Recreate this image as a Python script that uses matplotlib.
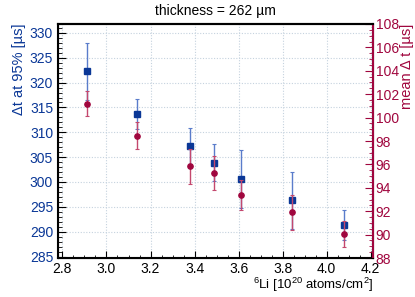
import matplotlib
matplotlib.use('Agg')
import matplotlib.pyplot as plt
from matplotlib.ticker import MultipleLocator

plt.rcParams['font.family'] = ['Liberation Sans', 'DejaVu Sans']
plt.rcParams['mathtext.fontset'] = 'custom'
plt.rcParams['mathtext.rm'] = 'Liberation Sans'
plt.rcParams['mathtext.it'] = 'Liberation Sans'

# 6Li areal density [1e20 atoms/cm2]
li6 = [2.91, 3.14, 3.38, 3.49, 3.61, 3.84, 4.08]
# delta t at 95% [us] (left axis)
dt95 = [322.3, 313.7, 307.2, 303.9, 300.6, 296.3, 291.3]
dt95_err = [5.7, 3.1, 3.6, 3.8, 5.9, 5.7, 3.0]
# mean delta t [us] (right axis)
dt_mean = [101.2, 98.45, 95.85, 95.3, 93.4, 91.9, 90.05]
dt_mean_err = [1.05, 1.15, 1.5, 1.45, 1.3, 1.5, 1.15]

blue = '#0a3796'
blue_light = '#5a7ccb'
red = '#a0063e'
red_light = '#c4486e'

fig = plt.figure(figsize=(4.15, 2.97), dpi=100)
ax = fig.add_axes([0.1398, 0.1313, 0.7590, 0.7879])
ax2 = ax.twinx()

ax.errorbar(li6, dt95, yerr=dt95_err, fmt='s', color=blue, ms=4.2,
            ecolor=blue_light, elinewidth=1.0, capsize=1.5, capthick=0.8, zorder=3)
ax2.errorbar(li6, dt_mean, yerr=dt_mean_err, fmt='o', color=red, ms=3.8,
             ecolor=red_light, elinewidth=1.0, capsize=1.5, capthick=0.8, zorder=3)

ax.set_xlim(2.78, 4.21)
ax.set_ylim(284.7, 331.8)
ax2.set_ylim(88, 108)

ax.xaxis.set_major_locator(MultipleLocator(0.2))
ax.xaxis.set_minor_locator(MultipleLocator(0.05))
ax.yaxis.set_major_locator(MultipleLocator(5))
ax.yaxis.set_minor_locator(MultipleLocator(1))
ax2.yaxis.set_major_locator(MultipleLocator(2))
ax2.yaxis.set_minor_locator(MultipleLocator(0.5))

ax.grid(True, which='major', linestyle=(0, (1, 1.5)), color='#c5d2de', linewidth=0.8)
ax.set_axisbelow(True)

ax.tick_params(axis='x', which='both', direction='in', top=False, labelsize=10, pad=3)
ax.tick_params(axis='x', which='major', length=5)
ax.tick_params(axis='x', which='minor', length=2.5)
ax.tick_params(axis='y', which='both', direction='in', right=False, labelsize=10,
               labelcolor=blue, color='black')
ax.tick_params(axis='y', which='major', length=6)
ax.tick_params(axis='y', which='minor', length=3)
ax2.tick_params(axis='y', which='both', direction='in', labelsize=10,
                labelcolor=red, color=red, pad=2)
ax2.tick_params(axis='y', which='major', length=6)
ax2.tick_params(axis='y', which='minor', length=3)

ax.xaxis.set_major_formatter(matplotlib.ticker.FormatStrFormatter('%.1f'))

for s in ['left', 'bottom', 'top']:
    ax.spines[s].set_linewidth(1.5)
ax2.spines['right'].set_color(red)
ax2.spines['right'].set_linewidth(1.5)
ax2.spines['top'].set_linewidth(1.5)

ax.set_ylabel('\u0394t at 95% [\u00b5s]', color=blue, fontsize=10.5, loc='top', labelpad=3)
ax2.set_ylabel('mean \u0394 t [\u00b5s]', color=red, fontsize=10.5, loc='top', labelpad=1)
ax.set_xlabel('$^{6}$Li [10$^{20}$ atoms/cm$^{2}$]', fontsize=9.5, loc='right', labelpad=0)
fig.suptitle('thickness = 262 \u00b5m', fontsize=10, x=0.52, y=0.985)

fig.savefig('out.png', dpi=100)
